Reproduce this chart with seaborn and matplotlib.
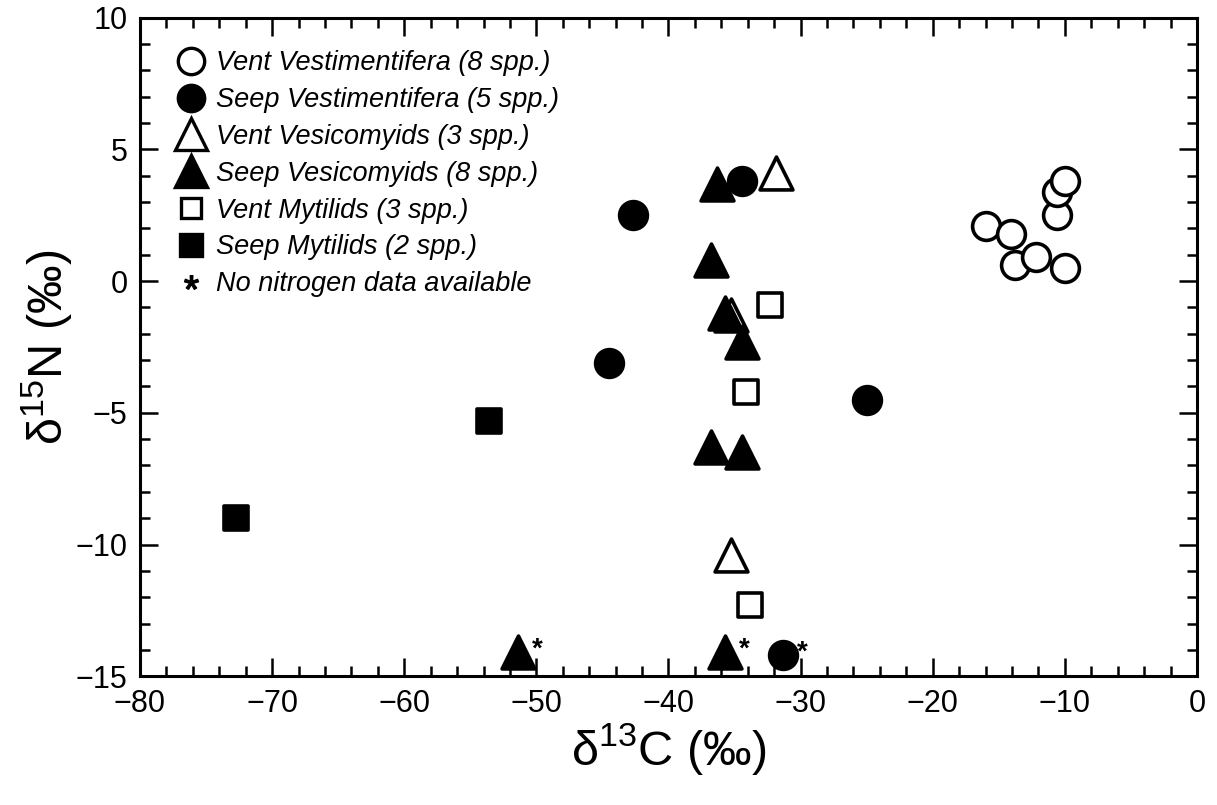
import matplotlib
matplotlib.use('Agg')
import matplotlib.pyplot as plt
import matplotlib.font_manager as fm
from matplotlib.lines import Line2D
from matplotlib.ticker import MultipleLocator
import seaborn as sns
import pandas as pd

sns.set_style('ticks')
plt.rcParams['font.family'] = ['Liberation Sans', 'DejaVu Sans']
plt.rcParams['mathtext.fontset'] = 'custom'
plt.rcParams['mathtext.rm'] = 'Liberation Sans'
plt.rcParams['mathtext.it'] = 'Liberation Sans:italic'
for k in ['text.color', 'axes.labelcolor', 'xtick.color', 'ytick.color', 'axes.edgecolor']:
    plt.rcParams[k] = 'black'

# condensed face for the x axis if it is there
font_names = {f.name for f in fm.fontManager.ttflist}
if 'Liberation Sans Narrow' in font_names:
    narrow = 'Liberation Sans Narrow'
    lab_size, xt_size = 42, 24
else:
    narrow = 'Liberation Sans'
    lab_size, xt_size = 35, 22

##############################################################################
# data (d13C, d15N)
vent_vest_c = [-16.0, -14.1, -13.8, -12.2, -10.0, -10.6, -10.6, -10.0]
vent_vest_n = [2.1, 1.8, 0.6, 0.9, 0.5, 2.5, 3.4, 3.8]

seep_vest_c = [-42.7, -34.4, -44.5, -25.0, -31.3]
seep_vest_n = [2.5, 3.8, -3.1, -4.5, -14.2]

vent_vesi_c = [-31.9, -35.3, -35.3]
vent_vesi_n = [4.1, -1.3, -10.4]

seep_vesi_c = [-36.3, -36.8, -35.7, -34.4, -36.8, -34.4, -51.4, -35.7]
seep_vesi_n = [3.7, 0.8, -1.2, -2.3, -6.3, -6.5, -14.1, -14.1]

vent_myti_c = [-32.3, -34.1, -33.8]
vent_myti_n = [-0.9, -4.2, -12.3]

seep_myti_c = [-53.6, -72.7]
seep_myti_n = [-5.3, -9.0]

# points without nitrogen data (marked with *)
no_n_c = [-51.4, -35.7, -31.3]
no_n_n = [-14.1, -14.1, -14.2]

labels = ['Vent Vestimentifera (8 spp.)', 'Seep Vestimentifera (5 spp.)',
          'Vent Vesicomyids (3 spp.)', 'Seep Vesicomyids (8 spp.)',
          'Vent Mytilids (3 spp.)', 'Seep Mytilids (2 spp.)']
##############################################################################

groups = [
    (vent_vest_c, vent_vest_n, 'o', 'white', 400, 19),
    (seep_vest_c, seep_vest_n, 'o', 'black', 400, 19),
    (vent_vesi_c, vent_vesi_n, '^', 'white', 560, 23),
    (seep_vesi_c, seep_vesi_n, '^', 'black', 560, 23),
    (vent_myti_c, vent_myti_n, 's', 'white', 290, 15),
    (seep_myti_c, seep_myti_n, 's', 'black', 290, 16),
]

fig = plt.figure(figsize=(12.17, 8.05), dpi=100)
ax = fig.add_axes([0.115, 0.160, 0.8686, 0.818])

handles = []
for (cx, ny, m, fc, s, ms), lab in zip(groups, labels):
    df = pd.DataFrame({'c': cx, 'n': ny})
    sns.scatterplot(data=df, x='c', y='n', marker=m, s=s, color=fc,
                    edgecolor='black', linewidth=2.6, ax=ax, legend=False,
                    zorder=3)
    handles.append(Line2D([], [], linestyle='none', marker=m,
                          markerfacecolor=fc, markeredgecolor='black',
                          markeredgewidth=2.4, markersize=ms, label=lab))

for cx, ny in zip(no_n_c, no_n_n):
    ax.annotate('*', (cx, ny), xytext=(10, 2), textcoords='offset points',
                fontsize=20, fontweight='bold', ha='left', va='center')
handles.append(Line2D([], [], linestyle='none', marker='$*$',
                      color='black', markersize=10,
                      label='No nitrogen data available'))

ax.set_xlim(-80, 0)
ax.set_ylim(-15, 10)
ax.xaxis.set_minor_locator(MultipleLocator(2))
ax.yaxis.set_minor_locator(MultipleLocator(1))
ax.set_xticks(range(-80, 1, 10))
ax.set_xticklabels(['\u221280', '\u221270', '\u221260', '\u221250', '\u221240',
                    '\u221230', '\u221220', '\u221210', '0'],
                   family=narrow, fontsize=xt_size)
ax.set_yticks(range(-15, 11, 5))
ax.set_yticklabels(['\u221215', '\u221210', '\u22125', '0', '5', '10'], fontsize=22)
ax.tick_params(which='both', direction='in', top=True, right=True, width=1.8)
ax.tick_params(axis='x', pad=9)
ax.tick_params(axis='y', pad=9)
ax.tick_params(which='major', length=13)
ax.tick_params(which='minor', length=7)
for sp in ax.spines.values():
    sp.set_linewidth(2.2)

ax.set_xlabel('\u03b4$^{13}$C (\u2030)', fontsize=lab_size, family=narrow, labelpad=2)
ax.set_ylabel('\u03b4$^{15}$N (\u2030)', fontsize=lab_size, family=narrow, labelpad=0)

leg = ax.legend(handles=handles, loc='upper left', frameon=False,
                prop={'style': 'italic', 'size': 19.5}, handletextpad=0.3,
                labelspacing=0.4, borderaxespad=0.0, handlelength=1.2,
                bbox_to_anchor=(0.023, 0.967))

fig.savefig('out.png', dpi=100)
